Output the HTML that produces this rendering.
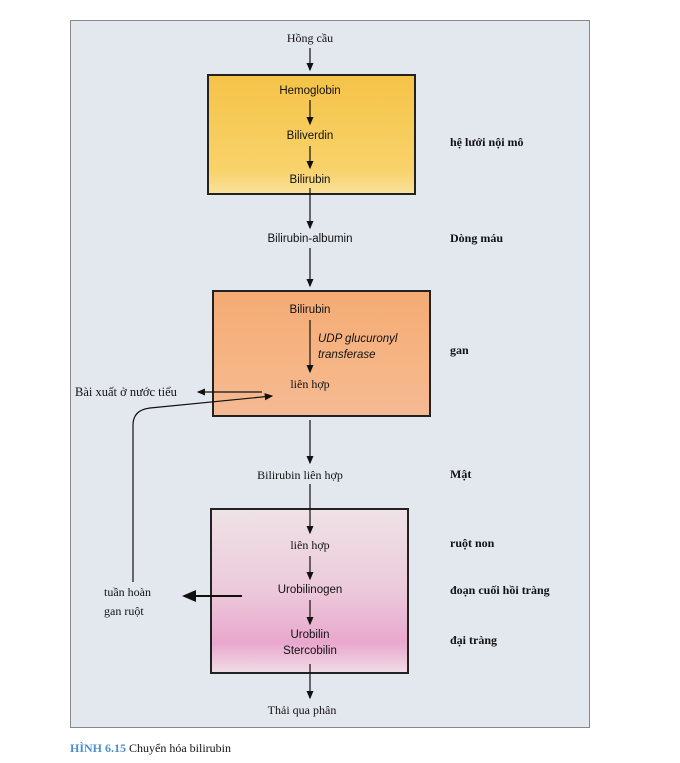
<!DOCTYPE html>
<html><head><meta charset="utf-8"><style>
body{margin:0;width:680px;height:763px;background:#fff;position:relative;overflow:hidden}
.t{position:absolute;white-space:nowrap;font-size:11.5px;color:#111}
.s{font-family:"Liberation Sans",sans-serif}
.r{font-family:"Liberation Serif",serif;font-size:12px}
.b{font-family:"Liberation Serif",serif;font-weight:bold;font-size:12px}
.c{transform:translateX(-50%)}
</style></head><body>
<div style="position:absolute;left:70px;top:20px;width:518px;height:706px;background:#e3e8ef;border:1px solid #888"></div>
<div style="position:absolute;left:207px;top:74px;width:205px;height:117px;background:linear-gradient(#f5c348,#f8d26a 80%,#fae19a);border:2px solid #222"></div>
<div style="position:absolute;left:212px;top:290px;width:215px;height:123px;background:linear-gradient(#f4ab74,#f6b585 60%,#f4ba94);border:2px solid #222"></div>
<div style="position:absolute;left:210px;top:508px;width:195px;height:162px;background:linear-gradient(#eee2e6,#ecc9da 50%,#e9a7cd 82%,#f0dbe6);border:2px solid #222"></div>
<svg width="680" height="763" style="position:absolute;left:0;top:0">
<defs><marker id="a" markerWidth="8" markerHeight="8" refX="6" refY="3" orient="auto"><path d="M0,0 L7,3 L0,6 Z" fill="#111"/></marker></defs>
<g stroke="#111" stroke-width="1.2" fill="none" marker-end="url(#a)">
<line x1="310" y1="48" x2="310" y2="70"/>
<line x1="310" y1="100" x2="310" y2="124"/>
<line x1="310" y1="146" x2="310" y2="168"/>
<line x1="310" y1="188" x2="310" y2="228"/>
<line x1="310" y1="248" x2="310" y2="286"/>
<line x1="310" y1="320" x2="310" y2="372"/>
<line x1="310" y1="420" x2="310" y2="463"/>
<line x1="310" y1="484" x2="310" y2="533"/>
<line x1="310" y1="556" x2="310" y2="579"/>
<line x1="310" y1="600" x2="310" y2="624"/>
<line x1="310" y1="664" x2="310" y2="698"/>
<line x1="262" y1="392" x2="198" y2="392"/>
<line x1="242" y1="596" x2="184" y2="596" stroke-width="2"/>
<path d="M133,582 L133,425 Q133,410 150,408 L272,396"/>
</g></svg>
<div class="t r c" style="left:310px;top:31px">Hồng cầu</div>
<div class="t s c" style="left:310px;top:85px">Hemoglobin</div>
<div class="t s c" style="left:310px;top:130px">Biliverdin</div>
<div class="t s c" style="left:310px;top:174px">Bilirubin</div>
<div class="t s c" style="left:310px;top:233px">Bilirubin-albumin</div>
<div class="t s c" style="left:310px;top:304px">Bilirubin</div>
<div class="t s" style="left:318px;top:333px;font-style:italic">UDP glucuronyl</div>
<div class="t s" style="left:318px;top:349px;font-style:italic">transferase</div>
<div class="t r c" style="left:310px;top:377px">liên hợp</div>
<div class="t r" style="left:75px;top:385px;font-size:12.5px">Bài xuất ở nước tiểu</div>
<div class="t r c" style="left:300px;top:468px">Bilirubin liên hợp</div>
<div class="t r c" style="left:310px;top:538px">liên hợp</div>
<div class="t s c" style="left:310px;top:584px">Urobilinogen</div>
<div class="t s c" style="left:310px;top:629px">Urobilin</div>
<div class="t s c" style="left:310px;top:645px">Stercobilin</div>
<div class="t r c" style="left:302px;top:703px">Thải qua phân</div>
<div class="t r" style="left:104px;top:585px">tuần hoàn</div>
<div class="t r" style="left:104px;top:604px">gan ruột</div>
<div class="t b" style="left:450px;top:135px">hệ lưới nội mô</div>
<div class="t b" style="left:450px;top:231px">Dòng máu</div>
<div class="t b" style="left:450px;top:343px">gan</div>
<div class="t b" style="left:450px;top:467px">Mật</div>
<div class="t b" style="left:450px;top:536px">ruột non</div>
<div class="t b" style="left:450px;top:583px">đoạn cuối hồi tràng</div>
<div class="t b" style="left:450px;top:633px">đại tràng</div>
<div class="t r" style="left:70px;top:741px"><span style="color:#4a8fd0;font-weight:bold">HÌNH 6.15</span> Chuyển hóa bilirubin</div>
</body></html>
